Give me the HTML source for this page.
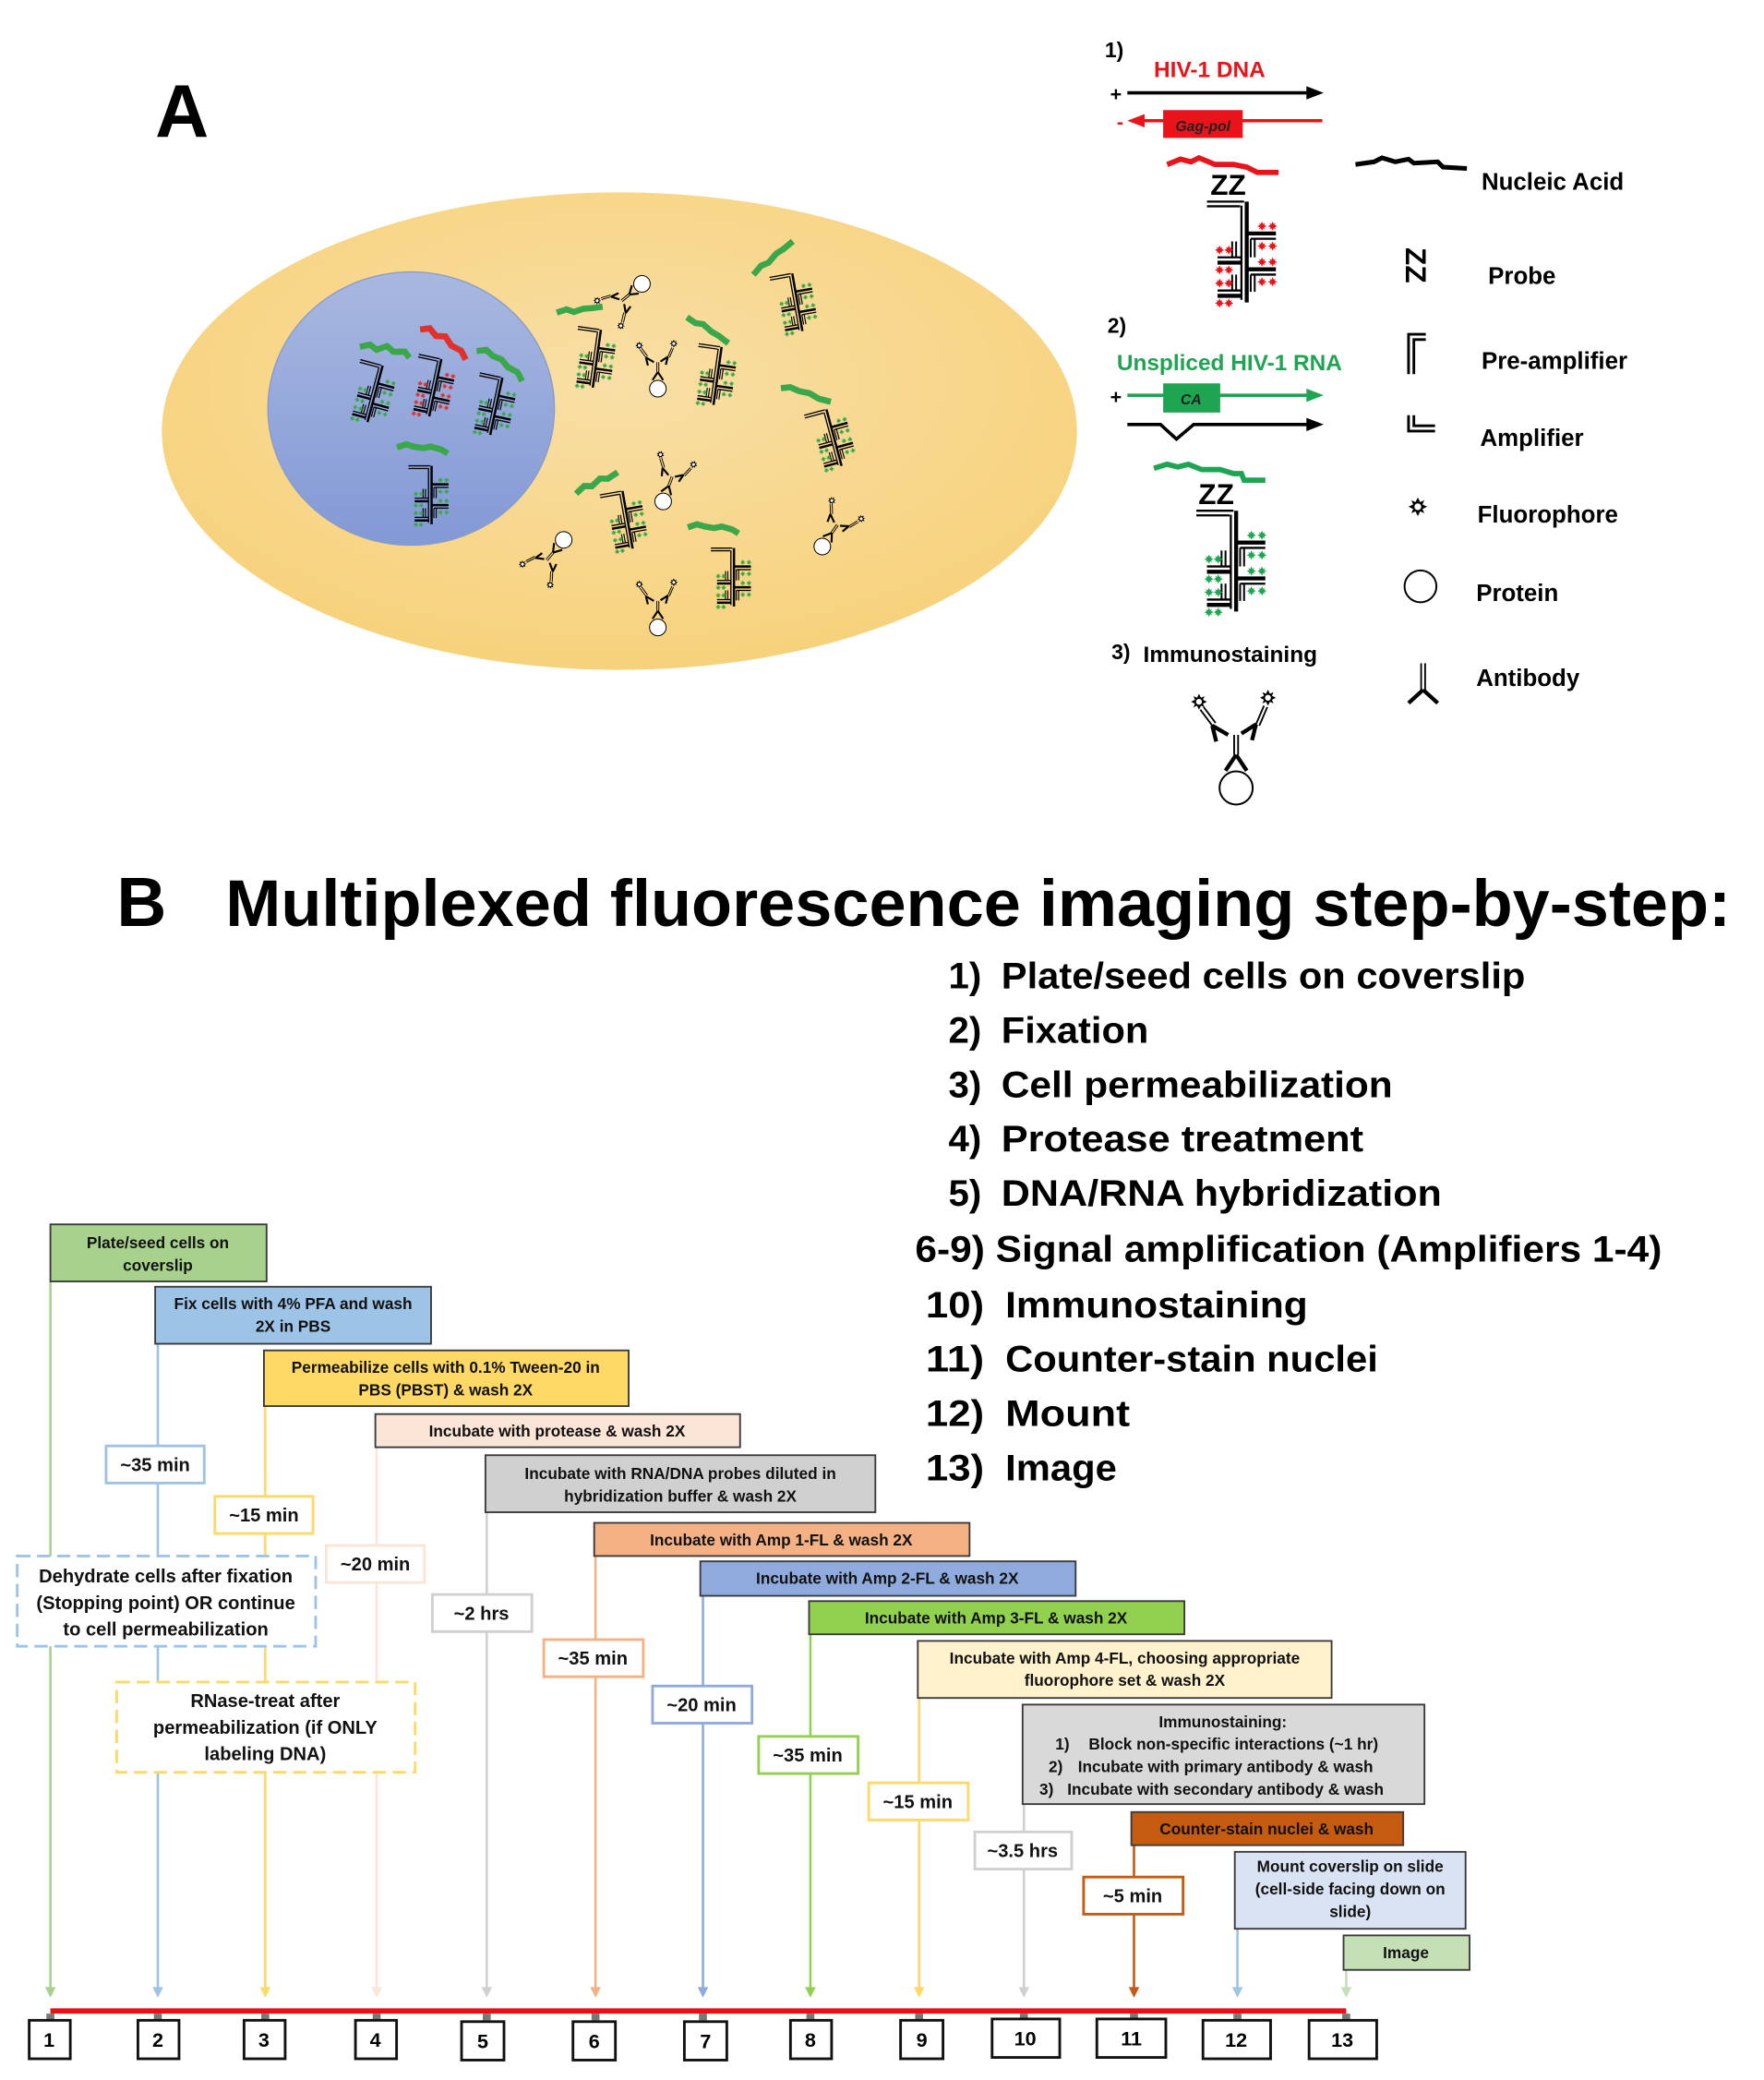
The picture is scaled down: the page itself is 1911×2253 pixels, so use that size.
<!DOCTYPE html>
<html><head><meta charset="utf-8"><style>
html,body{margin:0;padding:0;background:#fff;}
svg{display:block;}
text{font-family:"Liberation Sans",sans-serif;font-weight:bold;}
</style></head><body>
<svg width="1911" height="2253" viewBox="0 0 1330 1568" preserveAspectRatio="none" xmlns="http://www.w3.org/2000/svg">
<defs>
<radialGradient id="cg" cx="0.5" cy="0.4" r="0.6"><stop offset="0" stop-color="#f9dfa6"/><stop offset="1" stop-color="#f7d27c"/></radialGradient>
<linearGradient id="ng" x1="0" y1="0" x2="0" y2="1"><stop offset="0" stop-color="#a8b8e0"/><stop offset="1" stop-color="#8399d6"/></linearGradient>
<symbol id="st" viewBox="-5 -5 10 10" overflow="visible"><polygon points="0,-5 1.3,-2.2 3.5,-3.5 2.2,-1.3 5,0 2.2,1.3 3.5,3.5 1.3,2.2 0,5 -1.3,2.2 -3.5,3.5 -2.2,1.3 -5,0 -2.2,-1.3 -3.5,-3.5 -1.3,-2.2" fill="currentColor"/></symbol>
<symbol id="tr" viewBox="0 0 56 82" overflow="visible">
<g stroke="#000" fill="none">
<line x1="0" y1="2" x2="28" y2="2" stroke-width="1.6"/><line x1="0" y1="5.5" x2="25" y2="5.5" stroke-width="1.6"/>
<line x1="26" y1="5" x2="26" y2="76" stroke-width="1.6"/><line x1="30" y1="2" x2="30" y2="78" stroke-width="3"/>
<line x1="8" y1="44" x2="26" y2="44" stroke-width="1.6"/><line x1="8" y1="48" x2="26" y2="48" stroke-width="3"/>
<line x1="19" y1="32" x2="19" y2="44" stroke-width="1.4"/><line x1="22" y1="32" x2="22" y2="44" stroke-width="1.4"/>
<line x1="8" y1="69" x2="26" y2="69" stroke-width="1.6"/><line x1="8" y1="73" x2="26" y2="73" stroke-width="3"/>
<line x1="19" y1="57" x2="19" y2="69" stroke-width="1.4"/><line x1="22" y1="57" x2="22" y2="69" stroke-width="1.4"/>
<line x1="30" y1="26" x2="52" y2="26" stroke-width="3"/><line x1="33" y1="30" x2="52" y2="30" stroke-width="1.6"/>
<line x1="33" y1="30" x2="33" y2="44" stroke-width="1.4"/><line x1="36" y1="30" x2="36" y2="44" stroke-width="1.4"/>
<line x1="30" y1="53" x2="52" y2="53" stroke-width="3"/><line x1="33" y1="57" x2="52" y2="57" stroke-width="1.6"/>
<line x1="33" y1="57" x2="33" y2="70" stroke-width="1.4"/><line x1="36" y1="57" x2="36" y2="70" stroke-width="1.4"/>
</g>
<use href="#st" x="6" y="35" width="7" height="7"/><use href="#st" x="13" y="35" width="7" height="7"/>
<use href="#st" x="6" y="50" width="7" height="7"/><use href="#st" x="13" y="50" width="7" height="7"/>
<use href="#st" x="6" y="60" width="7" height="7"/><use href="#st" x="13" y="60" width="7" height="7"/>
<use href="#st" x="6" y="75" width="7" height="7"/><use href="#st" x="13" y="75" width="7" height="7"/>
<use href="#st" x="38" y="17" width="7" height="7"/><use href="#st" x="46" y="17" width="7" height="7"/>
<use href="#st" x="38" y="32" width="7" height="7"/><use href="#st" x="46" y="32" width="7" height="7"/>
<use href="#st" x="38" y="44" width="7" height="7"/><use href="#st" x="46" y="44" width="7" height="7"/>
<use href="#st" x="38" y="59" width="7" height="7"/><use href="#st" x="46" y="59" width="7" height="7"/>
</symbol>
<symbol id="fl" viewBox="-6 -6 12 12" overflow="visible"><polygon points="0,-6 1.5,-3 4.2,-4.2 3,-1.5 6,0 3,1.5 4.2,4.2 1.5,3 0,6 -1.5,3 -4.2,4.2 -3,1.5 -6,0 -3,-1.5 -4.2,-4.2 -1.5,-3" fill="#000"/><circle r="2.2" fill="#fff"/></symbol>
<symbol id="ab" viewBox="-35 -75 70 90" overflow="visible">
<g stroke="#000" fill="none">
<circle cx="0" cy="0" r="12.5" fill="#fff" stroke-width="1.4"/>
<line x1="0" y1="-25" x2="-8" y2="-13" stroke-width="3"/><line x1="0" y1="-25" x2="8" y2="-13" stroke-width="3"/>
<line x1="-1.5" y1="-25" x2="-1.5" y2="-40" stroke-width="1.3"/><line x1="1.5" y1="-25" x2="1.5" y2="-40" stroke-width="1.3"/>
<line x1="-18" y1="-47" x2="-6" y2="-40" stroke-width="3"/><line x1="-18" y1="-47" x2="-15" y2="-35" stroke-width="3"/>
<line x1="-18" y1="-47" x2="-27" y2="-59" stroke-width="1.3"/><line x1="-15.5" y1="-49" x2="-24.5" y2="-61" stroke-width="1.3"/>
<line x1="15" y1="-48" x2="4" y2="-41" stroke-width="3"/><line x1="15" y1="-48" x2="12" y2="-36" stroke-width="3"/>
<line x1="15" y1="-48" x2="21" y2="-62" stroke-width="1.3"/><line x1="17.5" y1="-47" x2="23.5" y2="-61" stroke-width="1.3"/>
</g>
<use href="#fl" x="-34" y="-71" width="12" height="12"/><use href="#fl" x="18" y="-74" width="12" height="12"/>
</symbol>
</defs>

<!-- Panel A -->
<text x="117" y="103" font-size="56">A</text>
<ellipse cx="467" cy="325" rx="345" ry="180" fill="url(#cg)"/>
<ellipse cx="310" cy="308" rx="108" ry="103" fill="url(#ng)" stroke="#8c9cc8" stroke-width="1"/>

<g>
<g transform="translate(272,270) rotate(15) scale(0.58)" style="color:#3aa84a"><path d="M-5,-14 l12,-6 l10,4 l12,-8 l10,5 l14,-4 l8,6" stroke="#3aa84a" stroke-width="8" fill="none"/><use href="#tr" x="0" y="0" width="56" height="82"/></g>
<g transform="translate(316,266) rotate(12) scale(0.58)" style="color:#e0322c"><path d="M-5,-30 l12,-4 l10,8 l12,-2 l10,10 l14,4 l8,10" stroke="#e0322c" stroke-width="8" fill="none"/><use href="#tr" x="0" y="0" width="56" height="82"/></g>
<g transform="translate(362,280) rotate(12) scale(0.58)" style="color:#3aa84a"><path d="M-10,-25 l12,-4 l10,6 l12,2 l10,8 l14,4 l8,10" stroke="#3aa84a" stroke-width="8" fill="none"/><use href="#tr" x="0" y="0" width="56" height="82"/></g>
<g transform="translate(308,350) scale(0.58)" style="color:#3aa84a"><path d="M-15,-22 l12,-4 l10,3 l12,2 l10,-2 l14,4 l8,5" stroke="#3aa84a" stroke-width="8" fill="none"/><use href="#tr" x="0" y="0" width="56" height="82"/></g>
<g transform="translate(436,245) rotate(8) scale(0.58)" style="color:#3aa84a"><path d="M-30,-12 l12,-6 l10,2 l12,-6 l10,-2 l14,-4" stroke="#3aa84a" stroke-width="8" fill="none"/><use href="#tr" x="0" y="0" width="56" height="82"/></g>
<g transform="translate(527,258) rotate(8) scale(0.58)" style="color:#3aa84a"><path d="M-20,-30 l12,6 l10,0 l12,8 l10,4 l14,8" stroke="#3aa84a" stroke-width="8" fill="none"/><use href="#tr" x="0" y="0" width="56" height="82"/></g>
<g transform="translate(580,208) rotate(-10) scale(0.58)" style="color:#3aa84a"><path d="M-20,-5 l12,-10 l10,-2 l12,-10 l10,-4 l14,-8" stroke="#3aa84a" stroke-width="8" fill="none"/><use href="#tr" x="0" y="0" width="56" height="82"/></g>
<g transform="translate(606,312) rotate(-15) scale(0.58)" style="color:#3aa84a"><path d="M-20,-40 l12,2 l10,8 l12,6 l10,10 l14,8" stroke="#3aa84a" stroke-width="8" fill="none"/><use href="#tr" x="0" y="0" width="56" height="82"/></g>
<g transform="translate(452,372) rotate(-10) scale(0.58)" style="color:#3aa84a"><path d="M-30,-5 l12,-8 l10,2 l12,-8 l10,2 l14,-6" stroke="#3aa84a" stroke-width="8" fill="none"/><use href="#tr" x="0" y="0" width="56" height="82"/></g>
<g transform="translate(536,412) scale(0.58)" style="color:#3aa84a"><path d="M-30,-25 l12,-4 l10,3 l12,2 l10,-2 l14,4 l8,5" stroke="#3aa84a" stroke-width="8" fill="none"/><use href="#tr" x="0" y="0" width="56" height="82"/></g>
</g>
<g>
<use href="#ab" transform="translate(484,214) rotate(-130) scale(0.5)" x="-35" y="-75" width="70" height="90"/>
<use href="#ab" transform="translate(496,293) scale(0.5)" x="-35" y="-75" width="70" height="90"/>
<use href="#ab" transform="translate(500,378) rotate(20) scale(0.5)" x="-35" y="-75" width="70" height="90"/>
<use href="#ab" transform="translate(425,407) rotate(-140) scale(0.5)" x="-35" y="-75" width="70" height="90"/>
<use href="#ab" transform="translate(620,412) rotate(35) scale(0.5)" x="-35" y="-75" width="70" height="90"/>
<use href="#ab" transform="translate(496,473) scale(0.5)" x="-35" y="-75" width="70" height="90"/>
</g>

<text x="833" y="43" font-size="16">1)</text>
<text x="870" y="58" font-size="17" fill="#e8141a">HIV-1 DNA</text>
<text x="837" y="76" font-size="15">+</text>
<line x1="850" y1="70" x2="988" y2="70" stroke="#000" stroke-width="2.5"/><polygon points="998,70 985,65 985,75" fill="#000"/>
<text x="842" y="97" font-size="15" fill="#e8141a">-</text>
<line x1="860" y1="91" x2="997" y2="91" stroke="#e8141a" stroke-width="2.5"/><polygon points="850,91 863,86 863,96" fill="#e8141a"/>
<rect x="877" y="83" width="60" height="21" fill="#e8141a"/>
<text x="907" y="99" font-size="11" font-style="italic" text-anchor="middle" fill="#222">Gag-pol</text>
<path d="M880,124 l10,-4 l8,2 l6,-3 l12,5 l14,0 l10,2 l8,4 l16,0" stroke="#e8141a" stroke-width="4" fill="none"/>
<text x="926" y="147" font-size="22" text-anchor="middle">ZZ</text>
<g style="color:#e8141a"><use href="#tr" x="910" y="150" width="56" height="82"/></g>

<text x="835" y="251" font-size="16">2)</text>
<text x="842" y="279" font-size="17" fill="#1fa552">Unspliced HIV-1 RNA</text>
<text x="837" y="304" font-size="15">+</text>
<line x1="850" y1="298" x2="988" y2="298" stroke="#1fa552" stroke-width="2.5"/><polygon points="998,298 985,293 985,303" fill="#1fa552"/>
<rect x="877" y="289" width="43" height="22" fill="#1fa552"/>
<text x="898" y="305" font-size="11" font-style="italic" text-anchor="middle" fill="#222">CA</text>
<path d="M850,320 L875,320 L887,331 L900,320 L988,320" stroke="#000" stroke-width="2.5" fill="none"/><polygon points="998,320 985,315 985,325" fill="#000"/>
<path d="M870,353 l10,-3 l8,2 l8,-2 l10,4 l14,0 l10,3 l6,0 l2,5 l16,0" stroke="#1fa552" stroke-width="4" fill="none"/>
<text x="917" y="380" font-size="22" text-anchor="middle">ZZ</text>
<g style="color:#1fa552"><use href="#tr" x="902" y="383" width="56" height="82"/></g>

<text x="838" y="497" font-size="16">3)</text>
<text x="862" y="499" font-size="17">Immunostaining</text>
<use href="#ab" transform="translate(932,594)" x="-35" y="-75" width="70" height="90"/>

<path d="M1022,124 l14,-2 l6,-3 l10,3 l10,-2 l4,3 l18,-1 l4,4 l18,1" stroke="#000" stroke-width="3.5" fill="none"/>
<text x="1117" y="143" font-size="18">Nucleic Acid</text>
<text transform="translate(1060,200) rotate(90)" font-size="22" text-anchor="middle">ZZ</text>
<text x="1122" y="214" font-size="18">Probe</text>
<path d="M1062,282 V252 H1075 M1066,282 V256 H1075" stroke="#000" stroke-width="2" fill="none"/>
<text x="1117" y="278" font-size="18">Pre-amplifier</text>
<path d="M1062,313 V325 H1082 M1066,313 V321 H1082" stroke="#000" stroke-width="2" fill="none"/>
<text x="1116" y="336" font-size="18">Amplifier</text>
<use href="#fl" x="1062" y="375" width="14" height="14"/>
<text x="1114" y="394" font-size="18">Fluorophore</text>
<circle cx="1071" cy="442" r="12" fill="#fff" stroke="#000" stroke-width="1.4"/>
<text x="1113" y="453" font-size="18">Protein</text>
<path d="M1073,520 l-11,10 M1073,520 l11,10" stroke="#000" stroke-width="3" fill="none"/>
<line x1="1071.5" y1="500" x2="1071.5" y2="520" stroke="#000" stroke-width="1.3"/><line x1="1074.5" y1="500" x2="1074.5" y2="520" stroke="#000" stroke-width="1.3"/>
<text x="1113" y="517" font-size="18">Antibody</text>

<text x="88" y="698" font-size="52">B</text>
<text x="170" y="698" font-size="50" textLength="1135" lengthAdjust="spacingAndGlyphs">Multiplexed fluorescence imaging step-by-step:</text>
<g font-size="28">
<text x="740" y="745" text-anchor="end" font-family="Liberation Serif">1)</text><text x="755" y="745" textLength="395" lengthAdjust="spacingAndGlyphs">Plate/seed cells on coverslip</text>
<text x="740" y="786" text-anchor="end" font-family="Liberation Serif">2)</text><text x="755" y="786" textLength="111" lengthAdjust="spacingAndGlyphs">Fixation</text>
<text x="740" y="827" text-anchor="end" font-family="Liberation Serif">3)</text><text x="755" y="827" textLength="295" lengthAdjust="spacingAndGlyphs">Cell permeabilization</text>
<text x="740" y="868" text-anchor="end" font-family="Liberation Serif">4)</text><text x="755" y="868" textLength="273" lengthAdjust="spacingAndGlyphs">Protease treatment</text>
<text x="740" y="909" text-anchor="end" font-family="Liberation Serif">5)</text><text x="755" y="909" textLength="332" lengthAdjust="spacingAndGlyphs">DNA/RNA hybridization</text>
<text x="690" y="951" textLength="563" lengthAdjust="spacingAndGlyphs">6-9) Signal amplification (Amplifiers 1-4)</text>
<text x="698" y="993" textLength="44" lengthAdjust="spacingAndGlyphs">10)</text><text x="758" y="993" textLength="228" lengthAdjust="spacingAndGlyphs">Immunostaining</text>
<text x="698" y="1034" textLength="44" lengthAdjust="spacingAndGlyphs">11)</text><text x="758" y="1034" textLength="281" lengthAdjust="spacingAndGlyphs">Counter-stain nuclei</text>
<text x="698" y="1075" textLength="44" lengthAdjust="spacingAndGlyphs">12)</text><text x="758" y="1075" textLength="94" lengthAdjust="spacingAndGlyphs">Mount</text>
<text x="698" y="1116" textLength="44" lengthAdjust="spacingAndGlyphs">13)</text><text x="758" y="1116" textLength="84" lengthAdjust="spacingAndGlyphs">Image</text>
</g>

<g stroke-width="1.8">
<line x1="38" y1="966" x2="38" y2="1500" stroke="#a9d18e"/>
<line x1="119" y1="1013" x2="119" y2="1500" stroke="#9dc3e6"/>
<line x1="200" y1="1060" x2="200" y2="1500" stroke="#ffd966"/>
<line x1="284" y1="1091" x2="284" y2="1500" stroke="#fbe5d6"/>
<line x1="367" y1="1140" x2="367" y2="1500" stroke="#d0d0d0"/>
<line x1="449" y1="1173" x2="449" y2="1500" stroke="#f4b183"/>
<line x1="530" y1="1203" x2="530" y2="1500" stroke="#8faadc"/>
<line x1="611" y1="1232" x2="611" y2="1500" stroke="#92d050"/>
<line x1="693" y1="1280" x2="693" y2="1500" stroke="#ffd966"/>
<line x1="772" y1="1360" x2="772" y2="1500" stroke="#d0d0d0"/>
<line x1="855" y1="1391" x2="855" y2="1500" stroke="#c55a11"/>
<line x1="933" y1="1454" x2="933" y2="1500" stroke="#9dc3e6"/>
<line x1="1015" y1="1485" x2="1015" y2="1500" stroke="#c5e0b4"/>
</g>
<g>
<polygon points="34,1498 42,1498 38,1506" fill="#a9d18e"/>
<polygon points="115,1498 123,1498 119,1506" fill="#9dc3e6"/>
<polygon points="196,1498 204,1498 200,1506" fill="#ffd966"/>
<polygon points="280,1498 288,1498 284,1506" fill="#fbe5d6"/>
<polygon points="363,1498 371,1498 367,1506" fill="#d0d0d0"/>
<polygon points="445,1498 453,1498 449,1506" fill="#f4b183"/>
<polygon points="526,1498 534,1498 530,1506" fill="#8faadc"/>
<polygon points="607,1498 615,1498 611,1506" fill="#92d050"/>
<polygon points="689,1498 697,1498 693,1506" fill="#ffd966"/>
<polygon points="768,1498 776,1498 772,1506" fill="#d0d0d0"/>
<polygon points="851,1498 859,1498 855,1506" fill="#c55a11"/>
<polygon points="929,1498 937,1498 933,1506" fill="#9dc3e6"/>
<polygon points="1011,1498 1019,1498 1015,1506" fill="#c5e0b4"/>
</g>
<line x1="38" y1="1516" x2="1015" y2="1516" stroke="#e81010" stroke-width="4"/>
<g fill="#777">
<rect x="35" y="1518" width="6" height="5"/><rect x="116" y="1518" width="6" height="5"/><rect x="197" y="1518" width="6" height="5"/><rect x="281" y="1518" width="6" height="5"/><rect x="364" y="1518" width="6" height="5"/><rect x="446" y="1518" width="6" height="5"/><rect x="527" y="1518" width="6" height="5"/><rect x="608" y="1518" width="6" height="5"/><rect x="690" y="1518" width="6" height="5"/><rect x="769" y="1518" width="6" height="5"/><rect x="852" y="1518" width="6" height="5"/><rect x="930" y="1518" width="6" height="5"/><rect x="1012" y="1518" width="6" height="5"/>
</g>
<g fill="#fff" stroke="#111" stroke-width="2">
<rect x="22" y="1523" width="31" height="29"/><rect x="104" y="1523" width="31" height="29"/><rect x="184" y="1523" width="31" height="29"/><rect x="268" y="1523" width="31" height="29"/><rect x="348" y="1524" width="32" height="29"/><rect x="432" y="1524" width="32" height="29"/><rect x="516" y="1524" width="32" height="29"/><rect x="596" y="1523" width="31" height="29"/><rect x="679" y="1523" width="32" height="29"/><rect x="748" y="1522" width="51" height="29"/><rect x="827" y="1522" width="52" height="29"/><rect x="907" y="1523" width="51" height="29"/><rect x="987" y="1523" width="51" height="29"/>
</g>
<g font-size="15" text-anchor="middle">
<text x="37" y="1543">1</text><text x="119" y="1543">2</text><text x="199" y="1543">3</text><text x="283" y="1543">4</text><text x="364" y="1544">5</text><text x="448" y="1544">6</text><text x="532" y="1544">7</text><text x="611" y="1543">8</text><text x="695" y="1543">9</text><text x="773" y="1542">10</text><text x="853" y="1542">11</text><text x="932" y="1543">12</text><text x="1012" y="1543">13</text>
</g>

<g stroke="#3a3a3a" stroke-width="1.3">
<rect x="38" y="923" width="163" height="43" fill="#a9d18e"/>
<rect x="117" y="970" width="208" height="43" fill="#9dc3e6"/>
<rect x="199" y="1018" width="275" height="42" fill="#ffd966"/>
<rect x="283" y="1066" width="275" height="25" fill="#fbe5d6"/>
<rect x="366" y="1097" width="294" height="43" fill="#d0d0d0"/>
<rect x="448" y="1148" width="283" height="25" fill="#f4b183"/>
<rect x="528" y="1177" width="283" height="26" fill="#8faadc"/>
<rect x="610" y="1207" width="283" height="25" fill="#92d050"/>
<rect x="692" y="1237" width="312" height="43" fill="#fff2cc"/>
<rect x="771" y="1285" width="303" height="75" fill="#d9d9d9"/>
<rect x="853" y="1366" width="205" height="25" fill="#c55a11"/>
<rect x="931" y="1396" width="174" height="58" fill="#dae3f3"/>
<rect x="1013" y="1459" width="95" height="26" fill="#c5e0b4"/>
</g>
<g font-size="12" text-anchor="middle" fill="#111">
<text x="119" y="941">Plate/seed cells on</text><text x="119" y="958">coverslip</text>
<text x="221" y="987">Fix cells with 4% PFA and wash</text><text x="221" y="1004">2X in PBS</text>
<text x="336" y="1035">Permeabilize cells with 0.1% Tween-20 in</text><text x="336" y="1052">PBS (PBST) &amp; wash 2X</text>
<text x="420" y="1083">Incubate with protease &amp; wash 2X</text>
<text x="513" y="1115">Incubate with RNA/DNA probes diluted in</text><text x="513" y="1132">hybridization buffer &amp; wash 2X</text>
<text x="589" y="1165">Incubate with Amp 1-FL &amp; wash 2X</text>
<text x="669" y="1194">Incubate with Amp 2-FL &amp; wash 2X</text>
<text x="751" y="1224">Incubate with Amp 3-FL &amp; wash 2X</text>
<text x="848" y="1254">Incubate with Amp 4-FL, choosing appropriate</text><text x="848" y="1271">fluorophore set &amp; wash 2X</text>
<text x="922" y="1302">Immunostaining:</text>
<text x="801" y="1319">1)</text><text x="930" y="1319">Block non-specific interactions (~1 hr)</text>
<text x="796" y="1336">2)</text><text x="924" y="1336">Incubate with primary antibody &amp; wash</text>
<text x="789" y="1353">3)</text><text x="924" y="1353">Incubate with secondary antibody &amp; wash</text>
<text x="955" y="1383">Counter-stain nuclei &amp; wash</text>
<text x="1018" y="1411">Mount coverslip on slide</text><text x="1018" y="1428">(cell-side facing down on</text><text x="1018" y="1445">slide)</text>
<text x="1060" y="1476">Image</text>
</g>

<g fill="#fff" stroke-width="2">
<rect x="80" y="1090" width="74" height="28" stroke="#9dc3e6"/>
<rect x="162" y="1128" width="74" height="28" stroke="#ffd966"/>
<rect x="246" y="1165" width="74" height="28" stroke="#fbe5d6"/>
<rect x="326" y="1202" width="75" height="28" stroke="#d0d0d0"/>
<rect x="410" y="1236" width="75" height="28" stroke="#f4b183"/>
<rect x="492" y="1271" width="75" height="28" stroke="#8faadc"/>
<rect x="572" y="1309" width="75" height="28" stroke="#92d050"/>
<rect x="655" y="1344" width="75" height="28" stroke="#ffd966"/>
<rect x="735" y="1381" width="73" height="28" stroke="#d0d0d0"/>
<rect x="817" y="1415" width="75" height="28" stroke="#c55a11"/>
<rect x="13" y="1173" width="225" height="68" stroke="#9dc3e6" stroke-dasharray="10,5"/>
<rect x="88" y="1268" width="225" height="68" stroke="#ffd966" stroke-dasharray="10,5"/>
</g>
<g font-size="14" text-anchor="middle" fill="#111">
<text x="117" y="1109">~35 min</text>
<text x="199" y="1147">~15 min</text>
<text x="283" y="1184">~20 min</text>
<text x="363" y="1221">~2 hrs</text>
<text x="447" y="1255">~35 min</text>
<text x="529" y="1290">~20 min</text>
<text x="609" y="1328">~35 min</text>
<text x="692" y="1363">~15 min</text>
<text x="771" y="1400">~3.5 hrs</text>
<text x="854" y="1434">~5 min</text>
</g>
<g font-size="14" text-anchor="middle" fill="#111">
<text x="125" y="1193">Dehydrate cells after fixation</text>
<text x="125" y="1213">(Stopping point) OR continue</text>
<text x="125" y="1233">to cell permeabilization</text>
<text x="200" y="1287">RNase-treat after</text>
<text x="200" y="1307">permeabilization (if ONLY</text>
<text x="200" y="1327">labeling DNA)</text>
</g>
</svg>
</body></html>
